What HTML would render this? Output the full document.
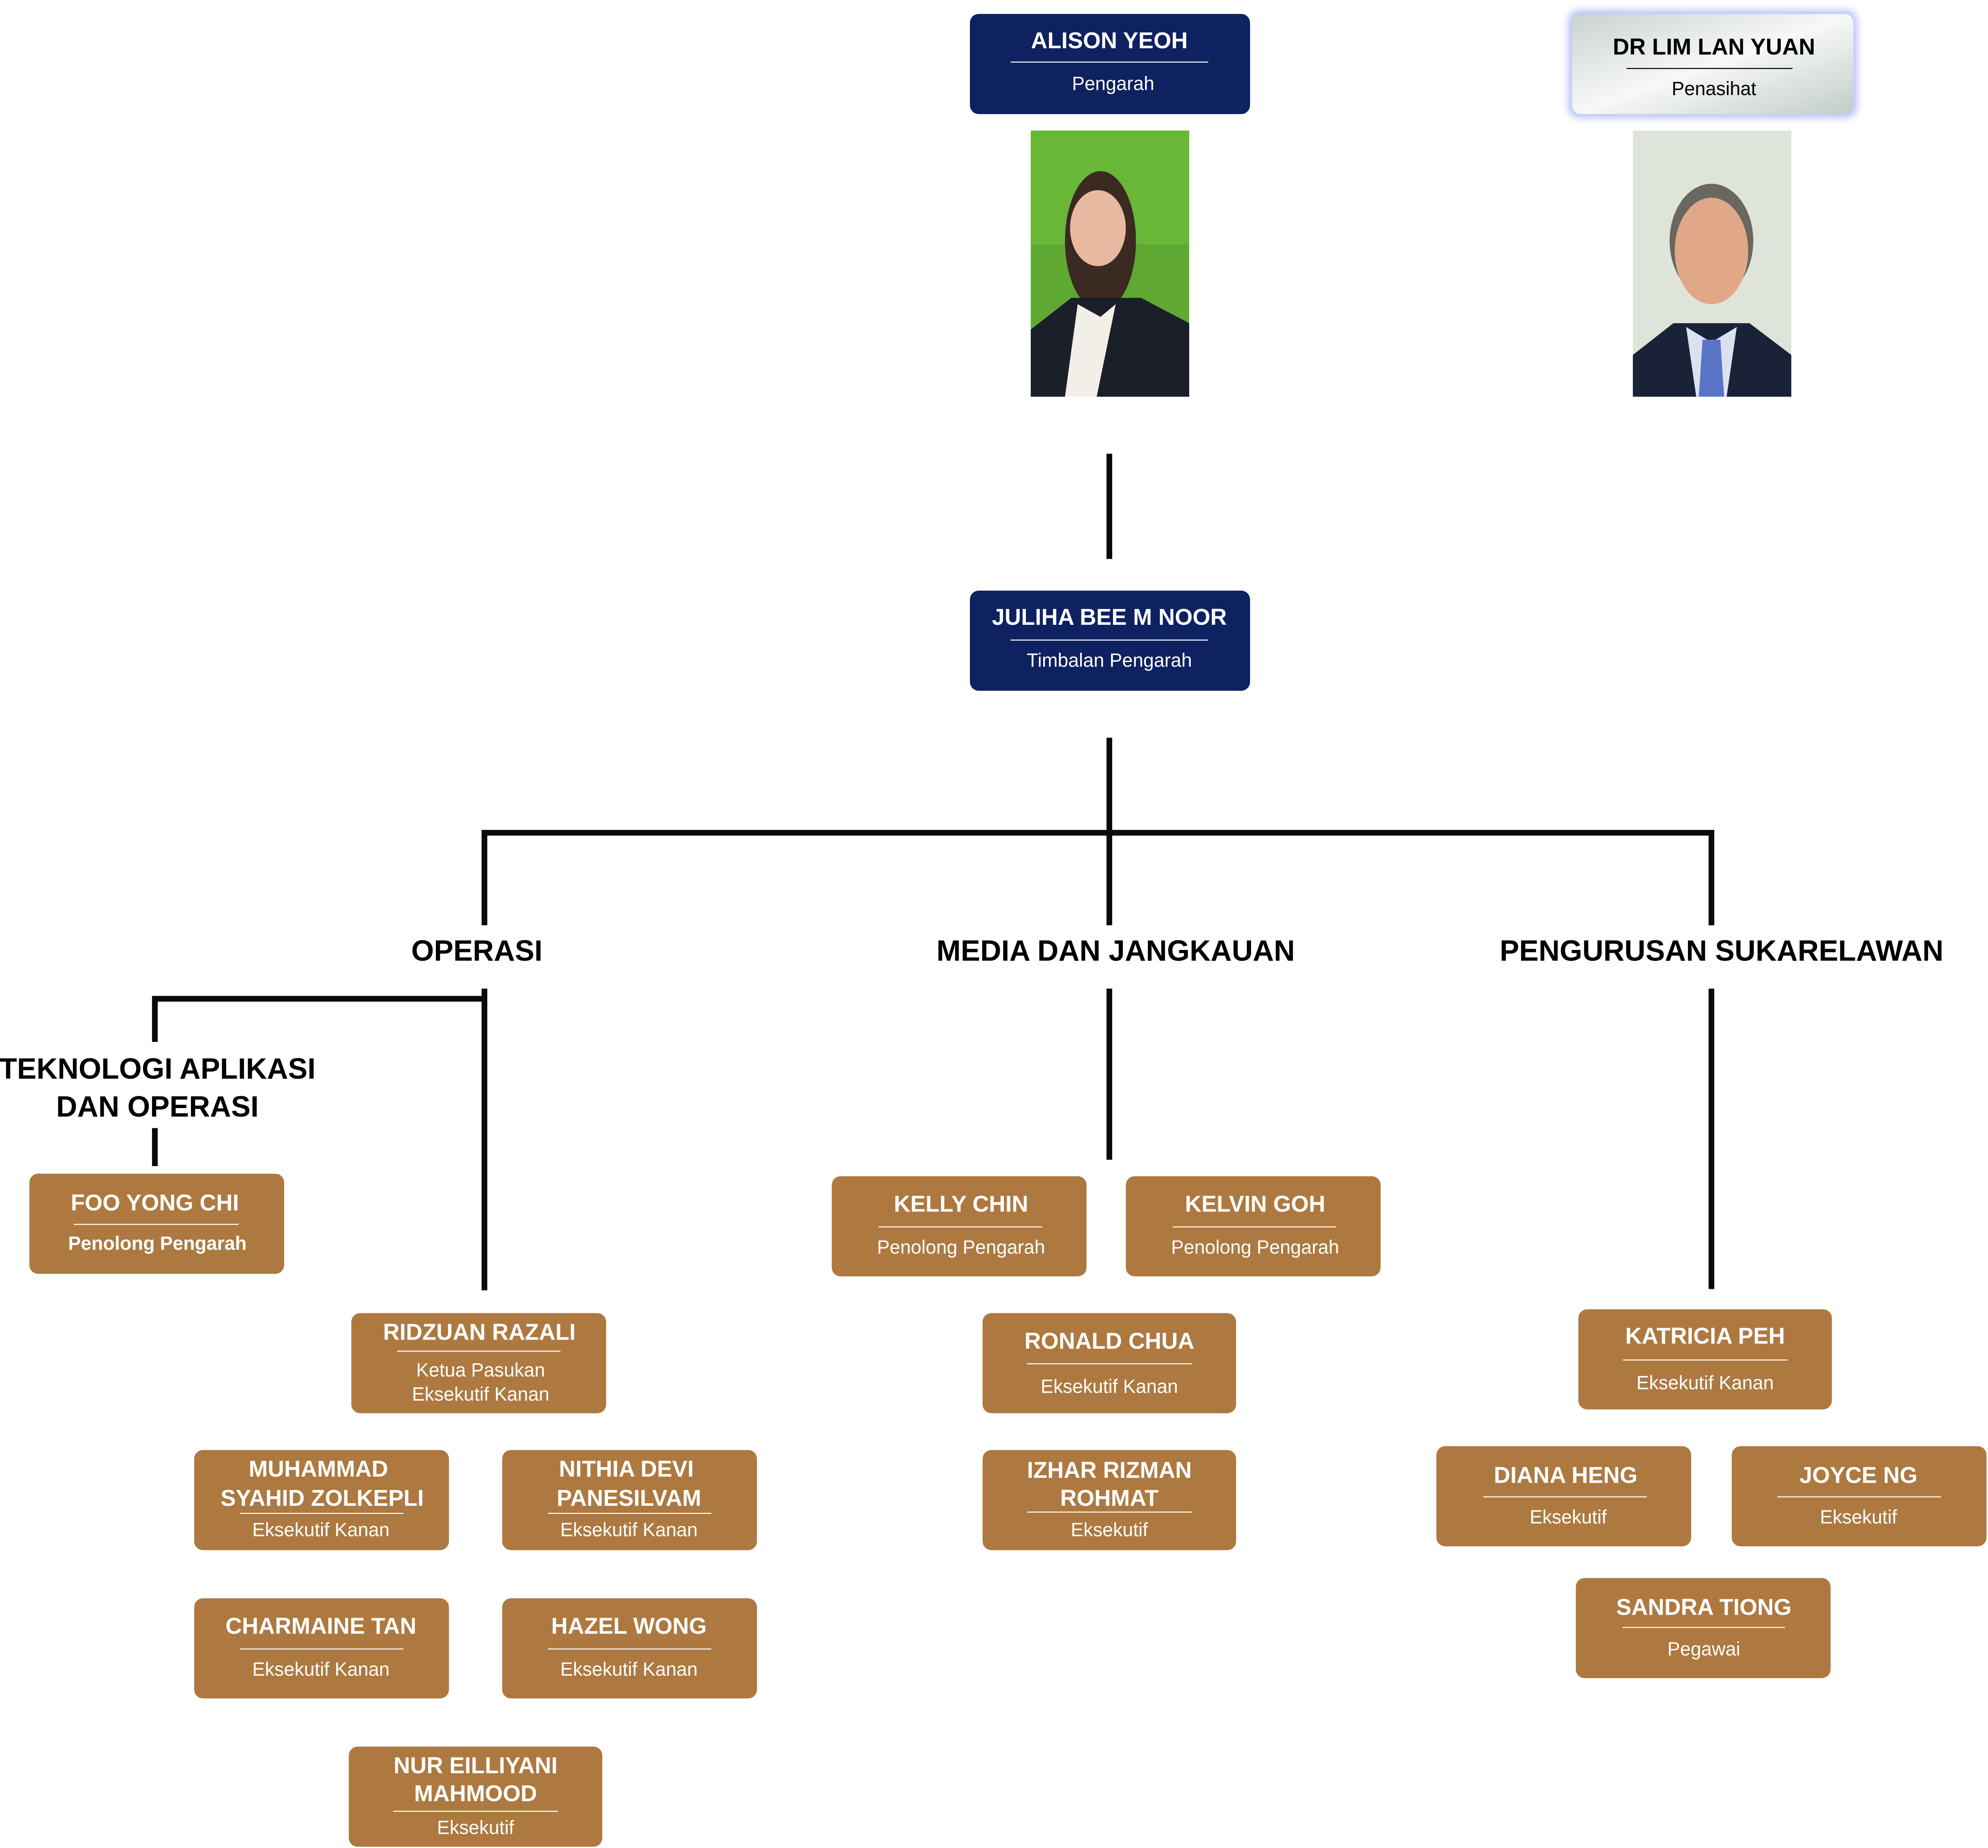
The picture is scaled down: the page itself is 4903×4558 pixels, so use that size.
<!DOCTYPE html>
<html><head><meta charset="utf-8"><style>
html,body{margin:0;padding:0;background:#fff;}
svg{display:block;}
text{font-family:"Liberation Sans",sans-serif;text-anchor:middle;}
.n{font-weight:bold;font-size:18px;fill:#fff;}
.s{font-size:15px;fill:#fff;}
.h{font-weight:bold;font-size:23px;fill:#000;}
.b{fill:#ad7940;}
.d{fill:#0e2160;}
.ln{stroke:#0a0a0a;stroke-width:4.5;fill:none;stroke-linecap:butt;}
.dv{stroke:#fff;stroke-width:0.8;}
</style></head><body>
<svg width="4903" height="4558" viewBox="0 0 1568 1458" xmlns="http://www.w3.org/2000/svg">
<defs>
<linearGradient id="gg" x1="0" y1="0" x2="1" y2="1">
<stop offset="0" stop-color="#c9d2cf"/><stop offset="0.5" stop-color="#f7f8f7"/><stop offset="1" stop-color="#c2ccc9"/>
</linearGradient>
<filter id="glow" x="-20%" y="-30%" width="140%" height="160%"><feGaussianBlur stdDeviation="3"/></filter>
</defs>

<!-- connectors -->
<path class="ln" d="M875 358V441"/>
<path class="ln" d="M875 582V730"/>
<path class="ln" d="M382 730V657H1350V730"/>
<path class="ln" d="M382 780V1018"/>
<path class="ln" d="M122 822V788H382"/>
<path class="ln" d="M122 890V920"/>
<path class="ln" d="M875 780V915"/>
<path class="ln" d="M1350 780V1017"/>

<!-- top -->
<rect class="d" x="765" y="11" width="221" height="79" rx="7"/>
<text class="n" x="875" y="38">ALISON YEOH</text>
<line class="dv" x1="797" y1="49" x2="953" y2="49"/>
<text class="s" x="878" y="71">Pengarah</text>

<rect x="1237" y="8" width="228" height="85" rx="9" fill="#b8c0ff" filter="url(#glow)"/>
<rect x="1240" y="11" width="222" height="79" rx="7" fill="url(#gg)"/>
<text class="n" x="1352" y="43" style="fill:#000">DR LIM LAN YUAN</text>
<line x1="1283" y1="54" x2="1414" y2="54" stroke="#000" stroke-width="0.8"/>
<text class="s" x="1352" y="75" style="fill:#000">Penasihat</text>

<!-- photo 1 -->
<rect x="813" y="103" width="125" height="210" fill="#5fa832"/>
<rect x="813" y="103" width="125" height="90" fill="#6fc23a" opacity="0.6"/>
<ellipse cx="868" cy="190" rx="28" ry="55" fill="#3a2a22"/>
<ellipse cx="866" cy="180" rx="22" ry="30" fill="#e8b8a0"/>
<path d="M813 260 L845 235 L900 235 L938 255 V313 H813Z" fill="#1a1f2a"/>
<path d="M850 240 L868 250 L880 240 L865 313 H840Z" fill="#f1efe8"/>
<!-- photo 2 -->
<rect x="1288" y="103" width="125" height="210" fill="#dfe4da"/>
<ellipse cx="1350" cy="190" rx="33" ry="45" fill="#6a6660"/>
<ellipse cx="1350" cy="198" rx="29" ry="42" fill="#e0a888"/>
<path d="M1288 280 L1320 255 L1380 255 L1413 280 V313 H1288Z" fill="#1a2238"/>
<path d="M1330 258 L1350 270 L1370 258 L1362 313 H1338Z" fill="#dbe2ef"/>
<path d="M1343 268 L1357 268 L1360 313 H1340Z" fill="#5a74c8"/>

<rect class="d" x="765" y="466" width="221" height="79" rx="7"/>
<text class="n" x="875" y="493">JULIHA BEE M NOOR</text>
<line class="dv" x1="797" y1="505" x2="953" y2="505"/>
<text class="s" x="875" y="526">Timbalan Pengarah</text>

<!-- headings -->
<text class="h" x="376" y="758">OPERASI</text>
<text class="h" x="880" y="758">MEDIA DAN JANGKAUAN</text>
<text class="h" x="1358" y="758">PENGURUSAN SUKARELAWAN</text>
<text class="h" x="124" y="851">TEKNOLOGI APLIKASI</text>
<text class="h" x="124" y="881">DAN OPERASI</text>

<!-- single-line boxes -->
<g>
<rect class="b" x="23" y="926" width="201" height="79" rx="7"/>
<text class="n" x="122" y="955">FOO YONG CHI</text>
<line class="dv" x1="58" y1="966" x2="188" y2="966"/>
<text class="s" x="124" y="986" style="font-weight:bold">Penolong Pengarah</text>

<rect class="b" x="656" y="928" width="201" height="79" rx="7"/>
<text class="n" x="758" y="956">KELLY CHIN</text>
<line class="dv" x1="693" y1="968" x2="822" y2="968"/>
<text class="s" x="758" y="989">Penolong Pengarah</text>

<rect class="b" x="888" y="928" width="201" height="79" rx="7"/>
<text class="n" x="990" y="956">KELVIN GOH</text>
<line class="dv" x1="925" y1="968" x2="1054" y2="968"/>
<text class="s" x="990" y="989">Penolong Pengarah</text>

<rect class="b" x="775" y="1036" width="200" height="79" rx="7"/>
<text class="n" x="875" y="1064">RONALD CHUA</text>
<line class="dv" x1="810" y1="1076" x2="940" y2="1076"/>
<text class="s" x="875" y="1099">Eksekutif Kanan</text>

<rect class="b" x="775" y="1144" width="200" height="79" rx="7"/>
<text class="n" x="875" y="1166">IZHAR RIZMAN</text>
<text class="n" x="875" y="1188">ROHMAT</text>
<line class="dv" x1="810" y1="1193" x2="940" y2="1193"/>
<text class="s" x="875" y="1212">Eksekutif</text>

<rect class="b" x="1245" y="1033" width="200" height="79" rx="7"/>
<text class="n" x="1345" y="1060">KATRICIA PEH</text>
<line class="dv" x1="1280" y1="1073" x2="1410" y2="1073"/>
<text class="s" x="1345" y="1096">Eksekutif Kanan</text>

<rect class="b" x="1133" y="1141" width="201" height="79" rx="7"/>
<text class="n" x="1235" y="1170">DIANA HENG</text>
<line class="dv" x1="1170" y1="1181" x2="1299" y2="1181"/>
<text class="s" x="1237" y="1202">Eksekutif</text>

<rect class="b" x="1366" y="1141" width="201" height="79" rx="7"/>
<text class="n" x="1466" y="1170">JOYCE NG</text>
<line class="dv" x1="1402" y1="1181" x2="1531" y2="1181"/>
<text class="s" x="1466" y="1202">Eksekutif</text>

<rect class="b" x="1243" y="1245" width="201" height="79" rx="7"/>
<text class="n" x="1344" y="1274">SANDRA TIONG</text>
<line class="dv" x1="1280" y1="1284" x2="1408" y2="1284"/>
<text class="s" x="1344" y="1306">Pegawai</text>

<rect class="b" x="277" y="1036" width="201" height="79" rx="7"/>
<text class="n" x="378" y="1057">RIDZUAN RAZALI</text>
<line class="dv" x1="313" y1="1066" x2="442" y2="1066"/>
<text class="s" x="379" y="1086">Ketua Pasukan</text>
<text class="s" x="379" y="1105">Eksekutif Kanan</text>

<rect class="b" x="153" y="1144" width="201" height="79" rx="7"/>
<text class="n" x="251" y="1165">MUHAMMAD</text>
<text class="n" x="254" y="1188">SYAHID ZOLKEPLI</text>
<line class="dv" x1="189" y1="1194" x2="318" y2="1194"/>
<text class="s" x="253" y="1212">Eksekutif Kanan</text>

<rect class="b" x="396" y="1144" width="201" height="79" rx="7"/>
<text class="n" x="494" y="1165">NITHIA DEVI</text>
<text class="n" x="496" y="1188">PANESILVAM</text>
<line class="dv" x1="432" y1="1194" x2="561" y2="1194"/>
<text class="s" x="496" y="1212">Eksekutif Kanan</text>

<rect class="b" x="153" y="1261" width="201" height="79" rx="7"/>
<text class="n" x="253" y="1289">CHARMAINE TAN</text>
<line class="dv" x1="189" y1="1301" x2="318" y2="1301"/>
<text class="s" x="253" y="1322">Eksekutif Kanan</text>

<rect class="b" x="396" y="1261" width="201" height="79" rx="7"/>
<text class="n" x="496" y="1289">HAZEL WONG</text>
<line class="dv" x1="432" y1="1301" x2="561" y2="1301"/>
<text class="s" x="496" y="1322">Eksekutif Kanan</text>

<rect class="b" x="275" y="1378" width="200" height="79" rx="7"/>
<text class="n" x="375" y="1399">NUR EILLIYANI</text>
<text class="n" x="375" y="1421">MAHMOOD</text>
<line class="dv" x1="310" y1="1429" x2="440" y2="1429"/>
<text class="s" x="375" y="1447">Eksekutif</text>
</g>
</svg>
</body></html>
